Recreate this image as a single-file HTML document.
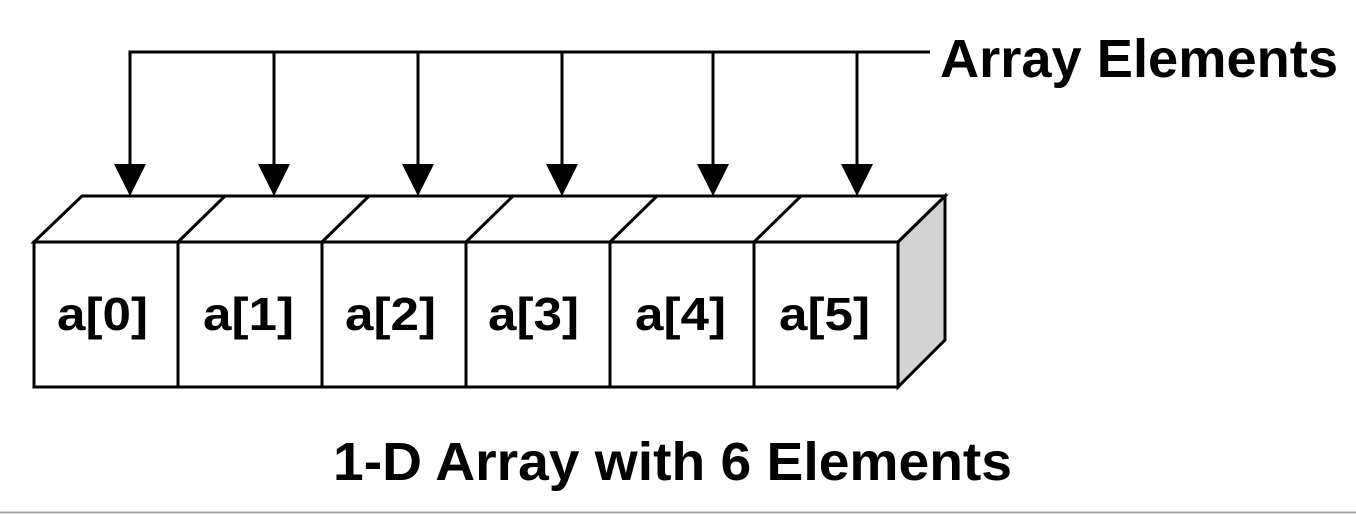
<!DOCTYPE html>
<html><head><meta charset="utf-8"><style>
html,body{margin:0;padding:0;background:#fff;}
svg{display:block;}
text{font-family:"Liberation Sans",Arial,sans-serif;font-weight:bold;fill:#000;}
</style></head><body>
<svg width="1356" height="514" viewBox="0 0 1356 514" xmlns="http://www.w3.org/2000/svg">
<rect width="1356" height="514" fill="#fff"/>
<!-- top connector -->
<g stroke="#000" stroke-width="3" fill="none">
<polyline points="130,166 130,52 930,52"/>
<line x1="274" y1="52" x2="274" y2="166"/>
<line x1="418" y1="52" x2="418" y2="166"/>
<line x1="562" y1="52" x2="562" y2="166"/>
<line x1="713" y1="52" x2="713" y2="166"/>
<line x1="857" y1="52" x2="857" y2="166"/>
</g>
<g fill="#000">
<polygon points="114,164 146,164 130,196"/>
<polygon points="258,164 290,164 274,196"/>
<polygon points="402,164 434,164 418,196"/>
<polygon points="546,164 578,164 562,196"/>
<polygon points="697,164 729,164 713,196"/>
<polygon points="841,164 873,164 857,196"/>
</g>
<!-- side face -->
<polygon points="898,242 945,196 945,340 898,387" fill="#d3d3d3" stroke="#000" stroke-width="3" stroke-linejoin="miter"/>
<!-- top face -->
<polygon points="34,242 82,196 945,196 898,242" fill="#fff" stroke="#000" stroke-width="3"/>
<g stroke="#000" stroke-width="3">
<line x1="178" y1="242" x2="225" y2="196"/>
<line x1="322" y1="242" x2="369" y2="196"/>
<line x1="466" y1="242" x2="513" y2="196"/>
<line x1="610" y1="242" x2="657" y2="196"/>
<line x1="754" y1="242" x2="801" y2="196"/>
</g>
<!-- front -->
<rect x="34" y="242" width="864" height="145" fill="#fff" stroke="#000" stroke-width="3"/>
<g stroke="#000" stroke-width="3">
<line x1="178" y1="242" x2="178" y2="387"/>
<line x1="322" y1="242" x2="322" y2="387"/>
<line x1="466" y1="242" x2="466" y2="387"/>
<line x1="610" y1="242" x2="610" y2="387"/>
<line x1="754" y1="242" x2="754" y2="387"/>
</g>
<g font-size="46">
<text x="57" y="330" textLength="91" lengthAdjust="spacingAndGlyphs">a[0]</text>
<text x="203" y="330" textLength="91" lengthAdjust="spacingAndGlyphs">a[1]</text>
<text x="345" y="330" textLength="91" lengthAdjust="spacingAndGlyphs">a[2]</text>
<text x="488" y="330" textLength="91" lengthAdjust="spacingAndGlyphs">a[3]</text>
<text x="635" y="330" textLength="91" lengthAdjust="spacingAndGlyphs">a[4]</text>
<text x="779" y="330" textLength="91" lengthAdjust="spacingAndGlyphs">a[5]</text>
</g>
<text x="940" y="77" font-size="54" textLength="398" lengthAdjust="spacingAndGlyphs">Array Elements</text>
<text x="333" y="480" font-size="54" textLength="679" lengthAdjust="spacingAndGlyphs">1-D Array with 6 Elements</text>
<line x1="0" y1="512.5" x2="1356" y2="512.5" stroke="#aaa" stroke-width="2"/>
</svg>
</body></html>
